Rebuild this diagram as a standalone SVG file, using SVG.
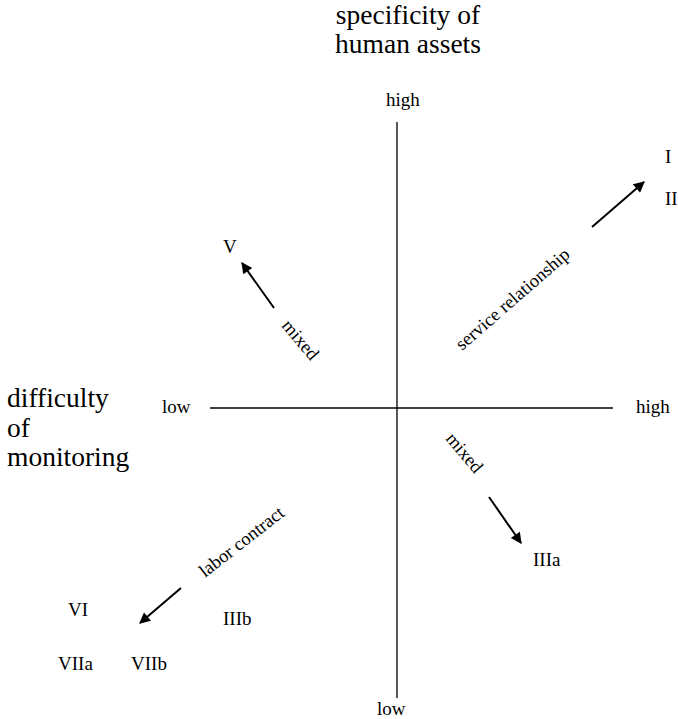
<svg xmlns="http://www.w3.org/2000/svg" width="678" height="719" viewBox="0 0 678 719">
<style>
text{font-family:"Liberation Serif","Times New Roman","DejaVu Serif",serif;fill:#000}
.big{font-size:27.5px}
.sm{font-size:19px}
.num{font-size:19px}
.lbl{font-size:18.5px}
.ax{stroke:#000;stroke-width:1.3;fill:none}
.arr{stroke:#000;stroke-width:2;fill:none;marker-end:url(#ah)}
</style>
<defs>
<marker id="ah" viewBox="0 0 10 10" refX="9" refY="5" markerWidth="6.5" markerHeight="5.5" markerUnits="strokeWidth" orient="auto">
<path d="M0,0 L10,5 L0,10 Z" fill="#000"/>
</marker>
</defs>
<rect width="678" height="719" fill="#fff"/>
<g id="axes">
<line class="ax" x1="397" y1="122" x2="397" y2="698"/>
<line class="ax" x1="210" y1="408" x2="613" y2="408"/>
</g>
<g id="titles">
<text class="big" x="408" y="24" text-anchor="middle">specificity of</text>
<text class="big" x="408" y="53" text-anchor="middle">human assets</text>
<text class="big" x="7" y="407">difficulty</text>
<text class="big" x="7" y="437">of</text>
<text class="big" x="7" y="466">monitoring</text>
</g>
<g id="axis-labels">
<text class="sm" x="386" y="106">high</text>
<text class="sm" x="377" y="715">low</text>
<text class="sm" x="162" y="413">low</text>
<text class="sm" x="636" y="413">high</text>
</g>
<g id="connectors">
<line class="arr" x1="592" y1="227" x2="644" y2="182"/>
<line class="arr" x1="274" y1="308" x2="242" y2="263"/>
<line class="arr" x1="489" y1="497" x2="521" y2="543"/>
<line class="arr" x1="181" y1="588" x2="140" y2="623"/>
</g>
<g id="arrow-labels">
<text class="lbl" font-size="19" transform="translate(462,351) rotate(-41)">service relationship</text>
<text class="lbl" transform="translate(281,326) rotate(50)">mixed</text>
<text class="lbl" transform="translate(445,439) rotate(50)">mixed</text>
<text class="lbl" transform="translate(205,578) rotate(-38)">labor contract</text>
</g>
<g id="node-I"><text class="num" x="665" y="163">I</text></g>
<g id="node-II"><text class="num" x="665" y="205">II</text></g>
<g id="node-V"><text class="num" x="223" y="253">V</text></g>
<g id="node-IIIa"><text class="num" x="533" y="566">IIIa</text></g>
<g id="node-VI"><text class="num" x="68" y="616">VI</text></g>
<g id="node-IIIb"><text class="num" x="223" y="625">IIIb</text></g>
<g id="node-VIIa"><text class="num" x="58" y="670">VIIa</text></g>
<g id="node-VIIb"><text class="num" x="131" y="670">VIIb</text></g>
</svg>
